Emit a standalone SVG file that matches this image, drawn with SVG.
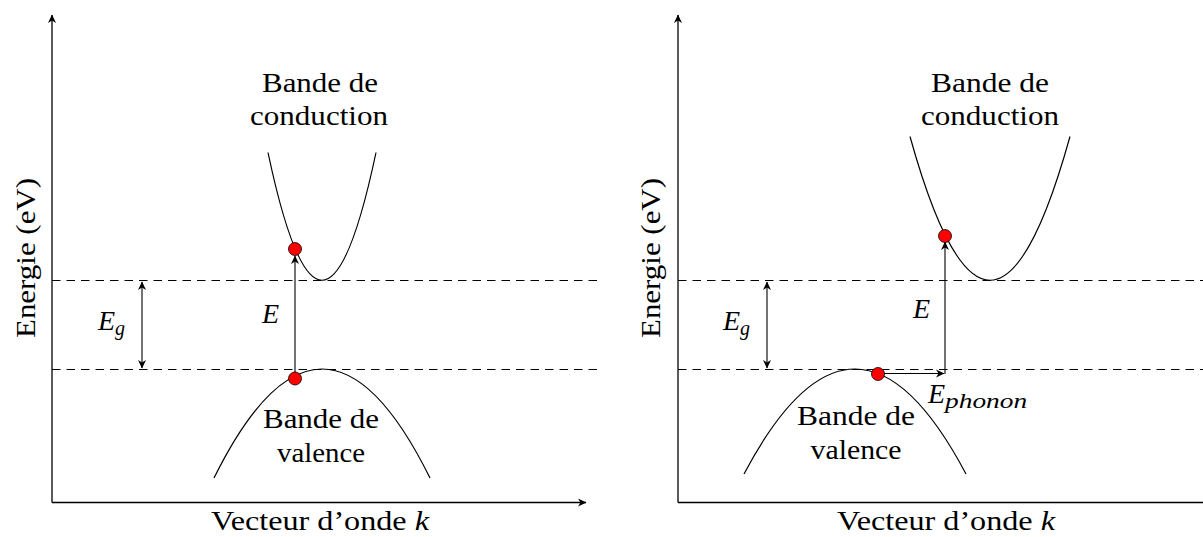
<svg xmlns="http://www.w3.org/2000/svg" width="1203" height="537" viewBox="0 0 1203 537">
<style>
.ax{stroke:#000;stroke-width:1.3;fill:none}
.dash{stroke:#000;stroke-width:1.2;fill:none;stroke-dasharray:8.5 6}
.band{stroke:#000;stroke-width:1.2;fill:none}
.arr{stroke:#000;stroke-width:1.1;fill:none}
.dot{fill:#ff0000;stroke:#000;stroke-width:0.8}
text{font-family:"Times New Roman","Liberation Serif","DejaVu Serif","Noto Serif",Times,serif;font-size:28px;fill:#000}
.c{text-anchor:middle}
.m{font-style:italic}
.sub{font-size:20px;font-style:italic}
</style>
<defs>
<marker id="ah" viewBox="-9 -5 10 10" refX="0" refY="0" markerWidth="10" markerHeight="10" orient="auto-start-reverse" markerUnits="userSpaceOnUse">
<path d="M0.5,0 L-8,-4 L-5.5,0 L-8,4 Z" fill="#000"/>
</marker>
</defs>
<rect width="1203" height="537" fill="#fff"/>

<g id="left-axes">
<line class="ax" x1="52" y1="502.5" x2="52" y2="15" marker-end="url(#ah)"/>
<line class="ax" x1="52" y1="502.5" x2="586" y2="502.5" marker-end="url(#ah)"/>
<text class="c" x="320" y="530" textLength="218" lengthAdjust="spacingAndGlyphs">Vecteur d’onde <tspan class="m">k</tspan></text>
<text class="c" transform="translate(35,258) rotate(-90)" textLength="160" lengthAdjust="spacingAndGlyphs">Energie (eV)</text>
</g>
<g id="left-levels">
<line class="dash" x1="52" y1="280.5" x2="600" y2="280.5"/>
<line class="dash" x1="52" y1="369.5" x2="600" y2="369.5"/>
</g>
<g id="left-conduction">
<path class="band" d="M268,152.5 Q322,408 376,152.5"/>
<text class="c" x="320" y="92" textLength="116" lengthAdjust="spacingAndGlyphs">Bande de</text>
<text class="c" x="319" y="125" textLength="138" lengthAdjust="spacingAndGlyphs">conduction</text>
</g>
<g id="left-valence">
<path class="band" d="M214,478 Q322,260 430,478"/>
<text class="c" x="321" y="428" textLength="116" lengthAdjust="spacingAndGlyphs">Bande de</text>
<text class="c" x="321" y="462" textLength="88" lengthAdjust="spacingAndGlyphs">valence</text>
</g>

<g id="right-axes">
<line class="ax" x1="678" y1="502.5" x2="678" y2="15" marker-end="url(#ah)"/>
<line class="ax" x1="678" y1="502.5" x2="1203" y2="502.5"/>
<text class="c" x="946" y="530" textLength="218" lengthAdjust="spacingAndGlyphs">Vecteur d’onde <tspan class="m">k</tspan></text>
<text class="c" transform="translate(660,258) rotate(-90)" textLength="160" lengthAdjust="spacingAndGlyphs">Energie (eV)</text>
</g>
<g id="right-levels">
<line class="dash" x1="678" y1="280.5" x2="1203" y2="280.5"/>
<line class="dash" x1="678" y1="369.5" x2="1203" y2="369.5"/>
</g>
<g id="right-conduction">
<path class="band" d="M910,136.5 Q990,424 1070,136.5"/>
<text class="c" x="990" y="92" textLength="118" lengthAdjust="spacingAndGlyphs">Bande de</text>
<text class="c" x="990" y="125" textLength="138" lengthAdjust="spacingAndGlyphs">conduction</text>
</g>
<g id="right-valence">
<path class="band" d="M744,474 Q855,264 966,474"/>
<text class="c" x="856" y="425" textLength="118" lengthAdjust="spacingAndGlyphs">Bande de</text>
<text class="c" x="856" y="459" textLength="91" lengthAdjust="spacingAndGlyphs">valence</text>
</g>

<g id="connectors">
<line class="arr" x1="142" y1="282" x2="142" y2="368" marker-start="url(#ah)" marker-end="url(#ah)"/>
<line class="arr" x1="295" y1="378" x2="295" y2="256" marker-end="url(#ah)"/>
<line class="arr" x1="767" y1="282" x2="767" y2="368" marker-start="url(#ah)" marker-end="url(#ah)"/>
<line class="arr" x1="878" y1="373.5" x2="944" y2="373.5" marker-end="url(#ah)"/>
<line class="arr" x1="945" y1="374" x2="945" y2="242" marker-end="url(#ah)"/>
</g>

<g id="left-labels">
<text x="98" y="330" class="m">E<tspan class="sub" dy="5">g</tspan></text>
<text x="262" y="323" class="m">E</text>
</g>
<g id="right-labels">
<text x="723" y="330" class="m">E<tspan class="sub" dy="5">g</tspan></text>
<text x="913" y="318" class="m">E</text>
<text x="928" y="403" class="m">E<tspan class="sub" dy="5" textLength="82" lengthAdjust="spacingAndGlyphs">phonon</tspan></text>
</g>

<g id="electrons">
<circle class="dot" cx="295" cy="249" r="6.5"/>
<circle class="dot" cx="295" cy="378.5" r="6.5"/>
<circle class="dot" cx="945" cy="236" r="6.5"/>
<circle class="dot" cx="878" cy="374" r="6.5"/>
</g>
</svg>
